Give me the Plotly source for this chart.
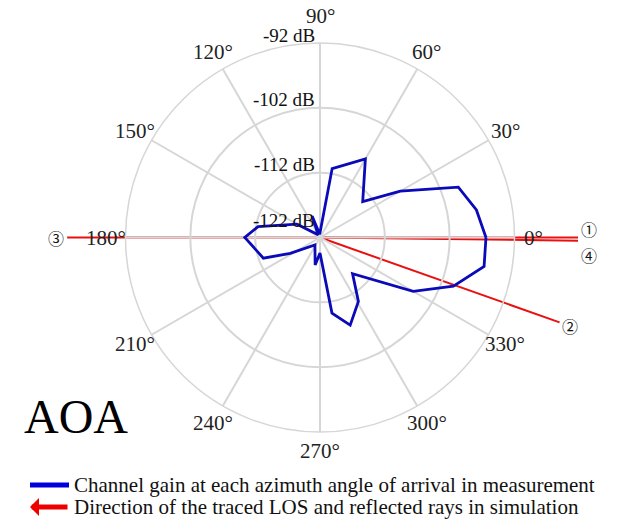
import numpy as np
import plotly.graph_objects as go

# Measured channel gain versus azimuth angle of arrival (deg, dB)
aoa_deg = [0, 10, 20, 30, 40, 60, 80, 95, 110, 125, 150, 170, 180, 200, 208,
           236, 260, 270, 279, 289, 301, 312, 330, 340, 350]
gain_db = [-96.4, -97.5, -99.3, -107.7, -113.4, -108.0, -111.2, -121.5, -118.5,
           -121.5, -117.9, -112.3, -110.4, -112.7, -116.8, -120.6, -117.7,
           -119.6, -110.2, -107.7, -110.5, -114.5, -105.4, -100.1, -96.3]

# Traced rays from simulation: direction (deg), drawn length (dB units) and tag
ray_angle = [0.0, 340.5, 180.0, 359.3]
ray_length = [39.8, 39.2, 39.0, 39.8]
ray_tag = ["①", "②", "③", "④"]

# Radial / angular axis settings
r_min, r_max = -122, -92
r_ticks = [-122, -112, -102, -92]
theta_ticks = list(range(0, 360, 30))
theta_labels = [f"{t}°" for t in theta_ticks]

SERIF = "Liberation Serif, Times New Roman, serif"
GRID = "#d6d6d6"

W, H = 621, 521
CX, CY, R = 320.0, 237.5, 194.5  # centre and outer radius of the polar plot (px)
LABEL_R = 33.0                   # angular label radius (dB units from centre)
LABEL_R_TOP = 34.2               # the 90° label sits a little further out

ppu = R / (r_max - r_min)  # pixels per dB

fig = go.Figure()

theta_closed = aoa_deg + [aoa_deg[0]]
gain_closed = gain_db + [gain_db[0]]
fig.add_trace(go.Scatterpolar(
    r=gain_closed, theta=theta_closed, mode="lines",
    line=dict(color="#0a0ab8", width=2.8), showlegend=False,
    subplot="polar", hoverinfo="skip"))

# Rays on a cartesian overlay sharing the polar centre and scale
rx, ry = [], []
for a, L in zip(ray_angle, ray_length):
    rad = np.deg2rad(a)
    rx += [0, L * np.cos(rad), None]
    ry += [0, L * np.sin(rad), None]
fig.add_trace(go.Scatter(x=rx, y=ry, mode="lines",
                         line=dict(color="#e81010", width=2),
                         showlegend=False, hoverinfo="skip", cliponaxis=False))

# Ray tags at the ray ends; rays 1 and 4 end almost together, so their
# tags are pushed apart vertically
TAG_FONT = dict(family="Noto Sans CJK SC", size=16, color="#111")
tag_shift = {"①": (11, 9), "②": (10, -4), "③": (-11, 0), "④": (11, -14)}
annotations = []
for a, L, tag in zip(ray_angle, ray_length, ray_tag):
    rad = np.deg2rad(a)
    dx, dy = tag_shift[tag]
    annotations.append(dict(
        x=L * np.cos(rad), y=L * np.sin(rad), xref="x", yref="y",
        text=tag, showarrow=False, xshift=dx, yshift=dy, font=TAG_FONT))

# Angular tick labels around the outer circle
for t, lab in zip(theta_ticks, theta_labels):
    rad = np.deg2rad(t)
    lr = LABEL_R_TOP if t == 90 else LABEL_R
    annotations.append(dict(
        x=lr * np.cos(rad), y=lr * np.sin(rad), xref="x", yref="y",
        text=lab, showarrow=False, xanchor="center", yanchor="middle",
        font=dict(family=SERIF, size=21, color="#222")))

# Radial tick labels, set just left of the 90° spoke
for t in r_ticks:
    annotations.append(dict(
        x=0, y=t - r_min, xref="x", yref="y", text=f"{t} dB",
        showarrow=False, xanchor="right", yanchor="middle",
        xshift=-3, yshift=17 if t == r_min else 8,
        font=dict(family=SERIF, size=19, color="#111")))

# Title-like tag
annotations.append(dict(x=22 / W, y=1 - 416 / H, xref="paper", yref="paper",
                        text="AOA", showarrow=False, xanchor="left",
                        yanchor="middle",
                        font=dict(family=SERIF, size=48, color="#000")))

# Legend
leg_x0, leg_x1 = 30 / W, 69 / W
row1, row2 = 1 - 485 / H, 1 - 507 / H
shapes = [dict(type="line", xref="paper", yref="paper", x0=leg_x0, x1=leg_x1,
               y0=row1, y1=row1, line=dict(color="#0000dd", width=5))]
annotations.append(dict(x=leg_x0, y=row2, xref="paper", yref="paper", text="",
                        showarrow=True, ax=39, ay=0, arrowhead=1,
                        arrowsize=0.6, arrowwidth=5, arrowcolor="#ee0000"))
annotations.append(dict(x=72 / W, y=row1, xref="paper", yref="paper",
                        text="Channel gain at each azimuth angle of arrival in measurement",
                        showarrow=False, xanchor="left", yanchor="middle",
                        font=dict(family=SERIF, size=21, color="#111")))
annotations.append(dict(x=72 / W, y=row2, xref="paper", yref="paper",
                        text="Direction of the traced LOS and reflected rays in simulation",
                        showarrow=False, xanchor="left", yanchor="middle",
                        font=dict(family=SERIF, size=21, color="#111")))

fig.update_layout(
    width=W, height=H,
    margin=dict(l=0, r=0, t=0, b=0, autoexpand=False),
    paper_bgcolor="white", plot_bgcolor="rgba(0,0,0,0)",
    showlegend=False,
    polar=dict(
        domain=dict(x=[(CX - R) / W, (CX + R) / W],
                    y=[(H - CY - R) / H, (H - CY + R) / H]),
        bgcolor="rgba(0,0,0,0)",
        radialaxis=dict(range=[r_min, r_max], tickvals=r_ticks[1:],
                        showticklabels=False, ticks="", showline=False,
                        gridcolor=GRID, gridwidth=1.5),
        angularaxis=dict(tickvals=theta_ticks, showticklabels=False,
                         direction="counterclockwise", rotation=0,
                         ticks="", showline=True, linecolor=GRID, linewidth=1.5,
                         gridcolor=GRID, gridwidth=1.5),
    ),
    xaxis=dict(domain=[0, 1], range=[-CX / ppu, (W - CX) / ppu], visible=False,
               fixedrange=True),
    yaxis=dict(domain=[0, 1], range=[-(H - CY) / ppu, CY / ppu], visible=False,
               fixedrange=True),
    annotations=annotations, shapes=shapes,
)

fig.write_html("out.html")
